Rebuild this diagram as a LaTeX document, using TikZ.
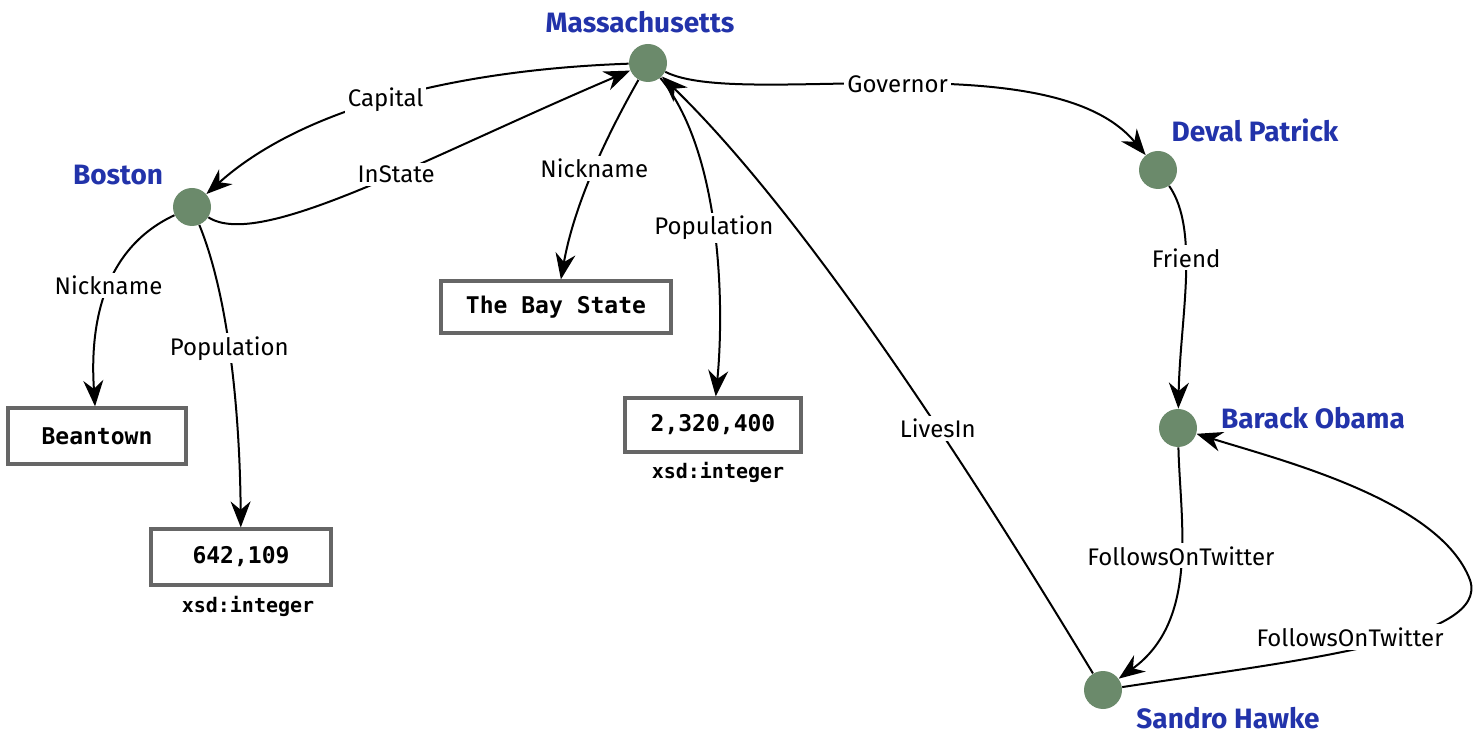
\documentclass[tikz,border=0pt]{standalone}
\usepackage{fontspec}
\setmainfont{Fira Sans}
\newfontfamily\boxfont{DejaVu Sans Mono}
\usetikzlibrary{arrows.meta}
\definecolor{dotc}{HTML}{6B8A6B}
\definecolor{namec}{HTML}{2233AA}
\begin{document}
\begin{tikzpicture}[x=0.5pt,y=-0.5pt,
  dot/.style={circle,fill=dotc,minimum size=19pt,inner sep=0pt},
  nm/.style={text=namec,font=\bfseries\fontsize{14}{16}\selectfont},
  lit/.style={draw=black!60,line width=1.6pt,fill=white,font=\boxfont\bfseries\fontsize{11.5}{13}\selectfont,inner sep=0pt},
  typ/.style={font=\boxfont\bfseries\fontsize{10}{12}\selectfont},
  ed/.style={-{Stealth[length=13pt,width=10pt]},line width=1pt},
  lb/.style={fill=white,inner sep=1.5pt,font=\fontsize{12}{14}\selectfont}]
\useasboundingbox (0,0) rectangle (1483,737);
\node[dot] (ma) at (648,63) {};
\node[nm] (mal) at (640,22) {Massachusetts};
\node[dot] (bo) at (192,207) {};
\node[nm] (bol) at (118,175) {Boston};
\node[dot] (dp) at (1158,170) {};
\node[nm] (dpl) at (1255,130) {Deval Patrick};
\node[dot] (ob) at (1178,428) {};
\node[nm] (obl) at (1313,418) {Barack Obama};
\node[dot] (sh) at (1103,690) {};
\node[nm] (shl) at (1228,718) {Sandro Hawke};
\node[lit,minimum width=89pt,minimum height=28pt] (bt) at (97,436) {Beantown};
\node[lit,minimum width=90pt,minimum height=28pt] (p1) at (241,557) {642,109};
\node[typ] (t1) at (248,606) {xsd:integer};
\node[lit,minimum width=115pt,minimum height=26pt] (bs) at (556,307) {The Bay State};
\node[lit,minimum width=88pt,minimum height=27pt] (p2) at (713,425) {2,320,400};
\node[typ] (t2) at (718,472) {xsd:integer};
\draw[ed] (ma) .. controls (450,70) and (300,110) .. node[lb,pos=0.5]{Capital} (bo);
\draw[ed] (bo) .. controls (260,250) and (420,160) .. node[lb,pos=0.58]{InState} (ma);
\draw[ed] (ma) .. controls (610,130) and (575,200) .. node[lb,pos=0.5]{Nickname} (bs);
\draw[ed] (ma) .. controls (720,150) and (725,300) .. node[lb,pos=0.5]{Population} (p2);
\draw[ed] (ma) .. controls (740,110) and (1050,40) .. node[lb,pos=0.5]{Governor} (dp);
\draw[ed] (dp) .. controls (1200,230) and (1180,320) .. node[lb,pos=0.4]{Friend} (ob);
\draw[ed] (bo) .. controls (100,250) and (90,330) .. node[lb,pos=0.45]{Nickname} (bt);
\draw[ed] (bo) .. controls (230,300) and (240,420) .. node[lb,pos=0.45]{Population} (p1);
\draw[ed] (ob) .. controls (1180,520) and (1200,620) .. node[lb,pos=0.45]{FollowsOnTwitter} (sh);
\draw[ed] (sh) .. controls (1300,660) and (1490,640) .. (1470,580) .. controls (1440,500) and (1280,460) .. (ob);
\node[lb] (fl) at (1350,637) {FollowsOnTwitter};
\draw[ed] (sh) .. controls (1000,520) and (820,230) .. node[lb,pos=0.42]{LivesIn} (ma);
\end{tikzpicture}
\end{document}
